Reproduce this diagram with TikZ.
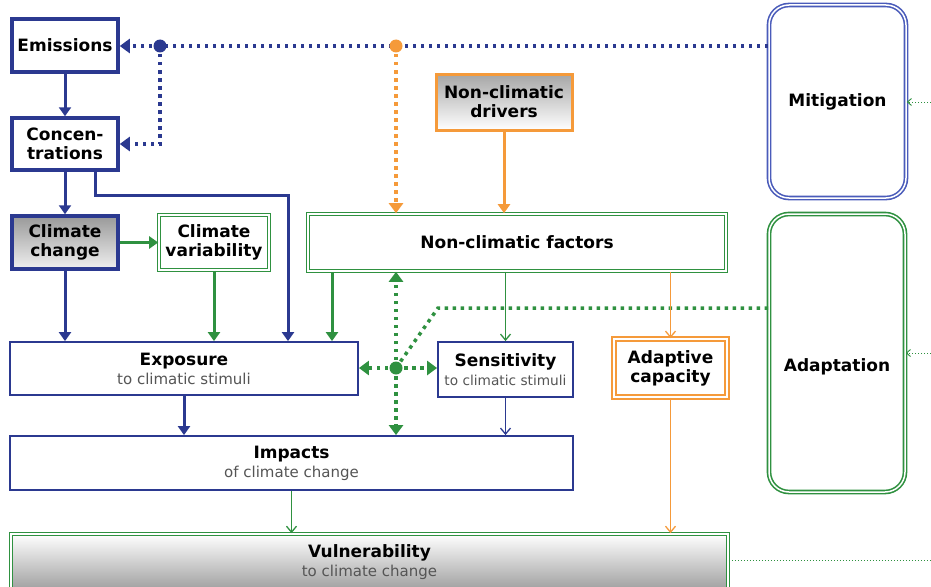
\documentclass[tikz,border=0pt]{standalone}
\usepackage{fontspec}
\setmainfont{DejaVu Sans}
\usetikzlibrary{arrows.meta}
\definecolor{cblue}{HTML}{2B3990}
\definecolor{cmit}{HTML}{4A5BBA}
\definecolor{cgreen}{HTML}{2F9140}
\definecolor{corange}{HTML}{F59A3A}
\definecolor{csub}{HTML}{555555}
\tikzset{
  box/.style={rectangle, inner sep=0pt, align=center, text=black,
    font=\fontsize{17}{19}\selectfont\bfseries},
  bluebox/.style={box, draw=cblue, line width=3.5pt, fill=white},
  thinbluebox/.style={box, draw=cblue, line width=1.8pt, fill=white},
  greendbl/.style={box, draw=cgreen, line width=1.6pt, double=white, double distance=1.5pt, fill=white},
  orangedbl/.style={box, draw=corange, line width=1.8pt, double=white, double distance=1.8pt, fill=white},
  thickarr/.style={line width=3pt, -{Triangle[length=9pt,width=12pt]}},
  thinarr/.style={line width=1.3pt, -{Straight Barb[length=6pt,width=10pt]}},
  dotline/.style={line width=3.5pt, dash pattern=on 3.5pt off 4.5pt},
  dotarr/.style={dotline, -{Triangle[length=10pt,width=14pt]}},
  junction/.style={circle, inner sep=0pt, minimum size=13pt},
  faintdot/.style={cgreen, line width=0.9pt, dash pattern=on 1.5pt off 1.5pt},
}
\begin{document}
\begin{tikzpicture}[x=1pt,y=-1pt]
\useasboundingbox (0,0) rectangle (931,586);
% nodes
\node[bluebox, minimum width=106pt, minimum height=53pt] (em) at (65,45.5) {Emissions};
\node[bluebox, minimum width=106pt, minimum height=52pt] (con) at (65,144) {Concen-\\trations};
\node[bluebox, minimum width=106pt, minimum height=53pt, top color=gray!80, bottom color=gray!12] (cc) at (65,242.5) {Climate\\change};
\node[greendbl, minimum width=110pt, minimum height=55pt] (cv) at (214,242.5) {Climate\\variability};
\node[box, draw=corange, line width=3pt, minimum width=136pt, minimum height=56pt, top color=gray!70, bottom color=white] (ncd) at (504,102) {Non-climatic\\drivers};
\node[greendbl, minimum width=418pt, minimum height=57pt] (ncf) at (517,242.5) {Non-climatic factors};
\node[box, draw=cmit, line width=1.6pt, double=white, double distance=1.5pt, fill=white, rounded corners=20pt, minimum width=137pt, minimum height=193pt] (mit) at (837.5,101.5) {Mitigation};
\node[greendbl, rounded corners=20pt, minimum width=136pt, minimum height=278pt] (ada) at (837,353) {};
\node[box] (adat) at (837,367) {Adaptation};
\node[thinbluebox, minimum width=348pt, minimum height=53pt] (exp) at (184,368.5) {Exposure\\{\fontsize{15}{18}\selectfont\mdseries\color{csub}to climatic stimuli}};
\node[thinbluebox, minimum width=135pt, minimum height=55pt] (sen) at (505.5,369.5) {Sensitivity\\{\fontsize{13.7}{16}\selectfont\mdseries\color{csub}to climatic stimuli}};
\node[orangedbl, minimum width=113pt, minimum height=58pt] (adc) at (670.5,368) {Adaptive\\capacity};
\node[thinbluebox, minimum width=563pt, minimum height=54pt] (imp) at (291.5,463) {Impacts\\{\fontsize{15}{18}\selectfont\mdseries\color{csub}of climate change}};
\node[greendbl, minimum width=717pt, minimum height=56pt, top color=white, bottom color=gray!75] (vul) at (369.5,562) {Vulnerability\\{\fontsize{15}{18}\selectfont\mdseries\color{csub}to climate change}};
% junction points
\coordinate (bd) at (160,46);
\coordinate (od) at (396,46);
\coordinate (gd) at (396,368);
\coordinate (gk) at (438,308);
\coordinate (k1) at (95,195);
\coordinate (k2) at (288,195);
\coordinate (k3) at (332,272);
\coordinate (r1) at (931,102);
\coordinate (r2) at (931,353);
\coordinate (r3) at (931,560);
% blue dotted
\draw[cblue, dotline] (mit.west |- bd) -- (bd);
\draw[cblue, dotarr] (bd) -- (em.east |- bd);
\draw[cblue, dotarr] (bd) |- (con.east);
% orange dotted
\draw[corange, dotarr] (od) -- (od |- ncf.north);
% green dotted
\draw[cgreen, dotline] (ada.west |- gk) -- (gk) -- (gd);
\draw[cgreen, dotarr] (gd) -- (gd |- ncf.south);
\draw[cgreen, dotarr] (gd) -- (gd |- imp.north);
\draw[cgreen, dotarr] (gd) -- (exp.east |- gd);
\draw[cgreen, dotarr] (gd) -- (sen.west |- gd);
\node[junction, fill=cblue] (bdn) at (bd) {};
\node[junction, fill=corange] (odn) at (od) {};
\node[junction, fill=cgreen] (gdn) at (gd) {};
% thick arrows
\draw[cblue, thickarr] (em) -- (con);
\draw[cblue, thickarr] (con) -- (cc);
\draw[cgreen, thickarr] (cc.east) -- (cv.west);
\draw[cblue, thickarr] (cc.south) -- (cc.south |- exp.north);
\draw[cgreen, thickarr] (cv.south) -- (cv.south |- exp.north);
\draw[cblue, thickarr] (k1 |- con.south) -- (k1) -- (k2) -- (k2 |- exp.north);
\draw[cgreen, thickarr] (k3 |- ncf.south) -- (k3 |- exp.north);
\draw[cblue, thickarr] (exp.south) -- (exp.south |- imp.north);
\draw[corange, thickarr] (ncd.south) -- (ncd.south |- ncf.north);
% thin arrows
\draw[cgreen, thinarr] (sen.north |- ncf.south) -- (sen.north);
\draw[cblue, thinarr] (sen.south) -- (sen.south |- imp.north);
\draw[cgreen, thinarr] (imp.south) -- (imp.south |- vul.north);
\draw[corange, thinarr] (adc.north |- ncf.south) -- (adc.north);
\draw[corange, thinarr] (adc.south) -- (adc.south |- vul.north);
% right side
\draw[faintdot, -{Straight Barb[length=4pt,width=7pt]}] (r1) -- (mit.east |- r1);
\draw[faintdot, -{Straight Barb[length=4pt,width=7pt]}] (r2) -- (ada.east |- r2);
\draw[faintdot] (vul.east |- r3) -- (r3);
\end{tikzpicture}
\end{document}
